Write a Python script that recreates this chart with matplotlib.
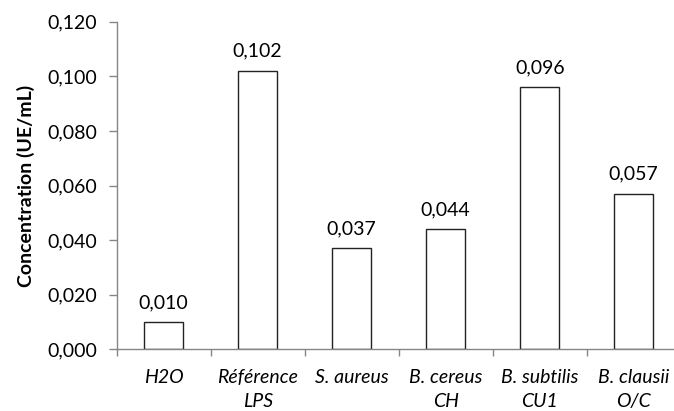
import matplotlib.pyplot as plt
import numpy as np

# données
categories = ['H2O', 'Référence\nLPS', 'S. aureus', 'B. cereus\nCH', 'B. subtilis\nCU1', 'B. clausii\nO/C']
values = [0.010, 0.102, 0.037, 0.044, 0.096, 0.057]
value_labels = ['0,010', '0,102', '0,037', '0,044', '0,096', '0,057']
y_ticks = [0.0, 0.02, 0.04, 0.06, 0.08, 0.10, 0.12]
y_tick_labels = ['0,000', '0,020', '0,040', '0,060', '0,080', '0,100', '0,120']

plt.rcParams['font.family'] = ['Lato', 'DejaVu Sans']
fs = 14

fig = plt.figure(figsize=(6.74, 4.11), dpi=100)
ax = fig.add_axes([0.173, 0.150, 0.837, 0.797])

x = np.arange(len(categories))
bars = ax.bar(x, values, width=0.41, color='white', edgecolor='#222222', linewidth=1.0)

for b, lab in zip(bars, value_labels):
    ax.annotate(lab, (b.get_x() + b.get_width() / 2, b.get_height()),
                xytext=(0, 8), textcoords='offset points',
                ha='center', va='bottom', fontsize=fs, color='black')

ax.set_xlim(-0.5, len(categories) - 0.5)
ax.set_ylim(0, 0.12)
ax.set_yticks(y_ticks)
ax.set_yticklabels(y_tick_labels, fontsize=fs)

ax.set_xticks(x)
ax.set_xticklabels(categories, fontsize=fs, style='italic', linespacing=1.5)
ax.set_xticks(np.arange(len(categories) + 1) - 0.5, minor=True)
ax.tick_params(axis='x', which='major', length=0, pad=14)
ax.tick_params(axis='x', which='minor', length=5, color='#868686', width=1)
ax.tick_params(axis='y', length=6, color='#868686', width=1, pad=8)

for s in ['top', 'right']:
    ax.spines[s].set_visible(False)
for s in ['left', 'bottom']:
    ax.spines[s].set_color('#868686')
    ax.spines[s].set_linewidth(1)
ax.spines['bottom'].set_clip_on(False)

ax.set_ylabel('Concentration (UE/mL)', fontsize=14, fontweight='bold', labelpad=9)

fig.savefig('out.png', dpi=100)
